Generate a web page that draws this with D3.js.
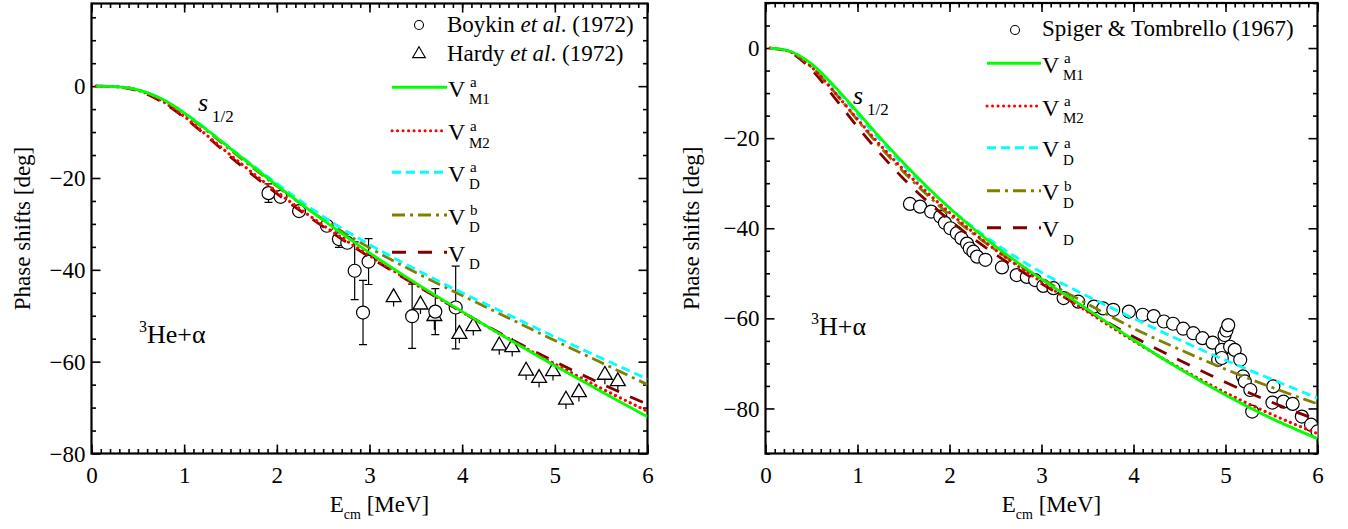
<!DOCTYPE html>
<html><head><meta charset="utf-8">
<script src="https://cdn.jsdelivr.net/npm/d3@7"></script>
<style>
html,body{margin:0;padding:0;background:#fff;}
</style></head>
<body>
<svg id="chart" width="1348" height="529"></svg>
<script>
// ---------------- DATA ----------------
const energyGrid = [0.05,0.25,0.5,0.75,1,1.25,1.5,2,2.5,3,3.5,4,4.5,5,5.5,6];
const xTicks = [0,1,2,3,4,5,6];
const yTicksLeft = [-80,-60,-40,-20,0];
const yTicksRight = [-80,-60,-40,-20,0];

// 3He + alpha (left panel)
const heVM1 = [0,-0.1,-0.8,-2.7,-5.8,-9.6,-13.6,-21.6,-29.2,-36.3,-42.9,-49.1,-55.1,-60.9,-66.5,-72.0];
const heVM2 = [0,-0.1,-0.9,-3.1,-6.6,-10.8,-15.0,-23.0,-30.3,-36.9,-43.2,-49.2,-55.0,-60.5,-65.8,-70.8];
const heVDa = [0,-0.1,-0.8,-2.7,-5.8,-9.5,-13.5,-21.2,-28.4,-34.5,-39.9,-45.0,-49.8,-54.6,-59.2,-63.8];
const heVDb = [0,-0.1,-0.8,-2.8,-6.0,-9.8,-13.9,-21.8,-29.0,-35.2,-40.6,-45.6,-50.5,-55.4,-60.2,-65.0];
const heVD  = [0,-0.1,-1.0,-3.3,-6.8,-11.0,-15.4,-23.4,-30.6,-37.2,-43.3,-49.2,-54.8,-60.0,-64.8,-69.3];

// Boykin et al. (1972): energy, phase, error
const boykinE   = [1.91,2.04,2.24,2.54,2.67,2.76,2.84,2.99,2.93,3.46,3.71,3.93];
const boykinPh  = [-23.3,-24.1,-27.2,-30.4,-33.3,-34.1,-40.2,-38.2,-49.3,-50.1,-49.1,-48.2];
const boykinErr = [2.0,1.0,1.0,1.0,1.8,1.0,6.3,5.0,7.0,7.0,5.0,9.0];
// Hardy et al. (1972)
const hardyE   = [3.26,3.55,3.70,3.97,4.12,4.40,4.54,4.69,4.83,4.98,5.12,5.26,5.54,5.68];
const hardyPh  = [-46.0,-47.6,-50.1,-54.0,-52.3,-56.5,-56.9,-62.0,-63.6,-62.1,-68.3,-66.7,-62.9,-64.3];
const hardyErr = [2.0,2.0,3.0,2.0,2.0,2.0,2.0,2.0,2.0,2.0,2.0,2.0,2.0,2.0];

// 3H + alpha (right panel)
const tVM1 = [0,-0.6,-3.5,-8.5,-14.2,-20.0,-25.5,-35.5,-44.0,-51.3,-58.0,-64.8,-71.2,-77.0,-82.2,-86.7];
const tVM2 = [0,-0.7,-4.2,-9.8,-15.8,-21.6,-27.0,-36.5,-44.8,-51.9,-58.5,-65.0,-71.0,-76.5,-81.3,-85.6];
const tVDa = [0,-0.6,-3.6,-8.8,-14.7,-20.5,-26.0,-35.5,-43.4,-49.8,-55.1,-60.0,-64.8,-69.3,-73.5,-77.7];
const tVDb = [0,-0.7,-4.2,-9.8,-16.0,-22.0,-27.5,-37.0,-44.8,-51.2,-56.8,-62.2,-66.9,-71.3,-75.3,-79.0];
const tVD  = [0,-0.8,-4.8,-11.0,-17.5,-23.5,-29.0,-38.2,-45.8,-52.3,-58.3,-64.1,-69.3,-74.2,-78.6,-82.6];

// Spiger & Tombrello (1967)
const spigerE  = [1.57,1.68,1.80,1.90,1.95,2.01,2.08,2.13,2.19,2.22,2.26,2.30,2.39,2.57,2.73,2.84,2.93,3.02,3.13,3.24,3.40,3.57,3.67,3.78,3.95,4.10,4.22,4.33,4.43,4.54,4.65,4.75,4.86,4.92,4.96,4.96,4.99,5.01,5.03,5.05,5.10,5.16,5.19,5.21,5.27,5.29,5.51,5.52,5.63,5.73,5.83,5.93,6.0];
const spigerPh = [-34.6,-35.2,-36.3,-37.4,-38.8,-40.0,-41.1,-42.2,-43.4,-44.5,-45.2,-46.3,-47.0,-48.7,-50.4,-50.8,-51.5,-52.8,-53.3,-55.5,-56.3,-57.4,-57.8,-58.1,-58.5,-59.2,-59.5,-60.7,-61.2,-62.3,-63.3,-64.4,-65.4,-69.2,-67.0,-68.8,-63.7,-62.7,-61.5,-66.3,-67.0,-69.2,-72.9,-74.0,-75.9,-80.7,-78.7,-75.1,-78.5,-79.0,-81.8,-83.6,-85.1];

const legendLabels = [["M1","a"],["M2","a"],["D","a"],["D","b"],["D",""]];
const seriesColors = ["#00ff00","#ff0000","#00ffff","#808000","#800000"];
const seriesDash = [null,"0.1,5.4","9,5","13,5,3,5","14,12"];

// ---------------- DRAW ----------------
const FONT = '"Liberation Serif", "Times New Roman", Times, serif';
const svg = d3.select("#chart").style("font-family",FONT);
svg.append("rect").attr("width",1348).attr("height",529).attr("fill","#fff");

function panel(cfg){
  const x = d3.scaleLinear().domain([0,6]).range([cfg.x0,cfg.x1]);
  const y = d3.scaleLinear().domain(cfg.ydom).range([cfg.y1,cfg.y0]);
  const g = svg.append("g");
  const clipId = "clip"+cfg.id;
  svg.append("clipPath").attr("id",clipId).append("rect")
    .attr("x",cfg.x0).attr("y",cfg.y0).attr("width",cfg.x1-cfg.x0).attr("height",cfg.y1-cfg.y0);

  const minorX = d3.range(0,6.0001,0.1).map(v=>+v.toFixed(1));
  const minorY = d3.range(cfg.ydom[0],cfg.ydom[1]+0.001,5).filter(v=>v%20!==0);
  const styleAxis = sel=>{sel.attr("font-family",null);sel.selectAll("path.domain").remove();sel.selectAll("line").attr("stroke","#000").attr("stroke-width",1.6);};
  g.append("g").attr("transform",`translate(0,${cfg.y1})`)
    .call(d3.axisBottom(x).tickValues(minorX).tickFormat("").tickSize(-4.5)).call(styleAxis);
  g.append("g").attr("transform",`translate(0,${cfg.y0})`)
    .call(d3.axisTop(x).tickValues(minorX).tickFormat("").tickSize(-4.5)).call(styleAxis);
  const bx = g.append("g").attr("transform",`translate(0,${cfg.y1})`)
    .call(d3.axisBottom(x).tickValues(xTicks).tickFormat(d3.format("d")).tickSize(-9).tickPadding(29)).call(styleAxis);
  bx.selectAll("text").attr("font-size",23).attr("dy",0);
  g.append("g").attr("transform",`translate(0,${cfg.y0})`)
    .call(d3.axisTop(x).tickValues(xTicks).tickFormat("").tickSize(-9)).call(styleAxis);
  g.append("g").attr("transform",`translate(${cfg.x0},0)`)
    .call(d3.axisLeft(y).tickValues(minorY).tickFormat("").tickSize(-4.5)).call(styleAxis);
  g.append("g").attr("transform",`translate(${cfg.x1},0)`)
    .call(d3.axisRight(y).tickValues(minorY).tickFormat("").tickSize(-4.5)).call(styleAxis);
  const ly = g.append("g").attr("transform",`translate(${cfg.x0},0)`)
    .call(d3.axisLeft(y).tickValues(cfg.yticks).tickFormat(d3.format("d")).tickSize(-9).tickPadding(6)).call(styleAxis);
  ly.selectAll("text").attr("font-size",23).attr("dy","0.33em");
  g.append("g").attr("transform",`translate(${cfg.x1},0)`)
    .call(d3.axisRight(y).tickValues(cfg.yticks).tickFormat("").tickSize(-9)).call(styleAxis);
  g.append("rect").attr("x",cfg.x0).attr("y",cfg.y0).attr("width",cfg.x1-cfg.x0).attr("height",cfg.y1-cfg.y0)
    .attr("fill","none").attr("stroke","#000").attr("stroke-width",2.2);

  const yt = g.append("text").attr("transform",`translate(${cfg.ytitleX},${(cfg.y0+cfg.y1)/2}) rotate(-90)`)
    .attr("text-anchor","middle").attr("font-size",23);
  yt.text("Phase shifts [deg]");
  const xt = g.append("text").attr("x",(cfg.x0+cfg.x1)/2+10).attr("y",512).attr("text-anchor","middle").attr("font-size",23);
  xt.append("tspan").text("E");
  xt.append("tspan").attr("font-size",14).attr("dy",7).text("cm");
  xt.append("tspan").attr("dy",-7).text(" [MeV]");

  const mk = g.append("g").attr("clip-path",`url(#${clipId})`);
  if(cfg.errE){
    cfg.errE.forEach((e,i)=>{
      const cx=x(e), lo=y(cfg.errPh[i]-cfg.errErr[i]), hi=y(cfg.errPh[i]+cfg.errErr[i]);
      mk.append("line").attr("x1",cx).attr("x2",cx).attr("y1",lo).attr("y2",hi).attr("stroke","#000").attr("stroke-width",1.2);
      [lo,hi].forEach(yy=>mk.append("line").attr("x1",cx-4).attr("x2",cx+4).attr("y1",yy).attr("y2",yy).attr("stroke","#000").attr("stroke-width",1.2));
    });
  }
  if(cfg.triE){
    cfg.triE.forEach((e,i)=>{
      const cx=x(e), cy=y(cfg.triPh[i]);
      mk.append("line").attr("x1",cx).attr("x2",cx).attr("y1",cy).attr("y2",y(cfg.triPh[i]-cfg.triErr[i])).attr("stroke","#000").attr("stroke-width",1.2);
      mk.append("path").attr("transform",`translate(${cx},${cy})`)
        .attr("d",d3.symbol(d3.symbolTriangle,95)()).attr("fill","#fff").attr("stroke","#000").attr("stroke-width",1.3);
    });
  }
  cfg.circE.forEach((e,i)=>{
    mk.append("circle").attr("cx",x(e)).attr("cy",y(cfg.circPh[i])).attr("r",6.5)
      .attr("fill","#fff").attr("stroke","#000").attr("stroke-width",1.2);
  });

  const line = d3.line().x((d)=>x(d[0])).y(d=>y(d[1])).curve(d3.curveMonotoneX);
  [4,3,2,1,0].forEach(k=>{
    const pts = energyGrid.map((e,i)=>[e,cfg.series[k][i]]);
    const p = g.append("path").attr("d",line(pts)).attr("fill","none")
      .attr("stroke",seriesColors[k]).attr("stroke-width",k===1?3.2:2.8).attr("clip-path",`url(#${clipId})`);
    if(seriesDash[k]) p.attr("stroke-dasharray",seriesDash[k]);
    if(k===1) p.attr("stroke-linecap","round");
  });

  cfg.legY.forEach((ly0,k)=>{
    const p = g.append("line").attr("x1",cfg.legX0).attr("x2",cfg.legX1).attr("y1",ly0).attr("y2",ly0)
      .attr("stroke",seriesColors[k]).attr("stroke-width",3);
    if(seriesDash[k]) p.attr("stroke-dasharray",seriesDash[k]);
    if(k===1) p.attr("stroke-linecap","round");
    g.append("text").attr("x",cfg.legX1+1).attr("y",ly0+9.5).attr("font-size",24).text("V");
    if(legendLabels[k][1]) g.append("text").attr("x",cfg.legX1+23).attr("y",ly0).attr("font-size",15).text(legendLabels[k][1]);
    g.append("text").attr("x",cfg.legX1+22).attr("y",ly0+17).attr("font-size",15).text(legendLabels[k][0]);
  });
  return {x,y,g};
}

const L = panel({id:"L",x0:91.5,x1:647.5,y0:3.5,y1:453.5,ydom:[-80,18],yticks:yTicksLeft,ytitleX:30,
  series:[heVM1,heVM2,heVDa,heVDb,heVD],
  circE:boykinE,circPh:boykinPh,errE:boykinE,errPh:boykinPh,errErr:boykinErr,
  triE:hardyE,triPh:hardyPh,triErr:hardyErr,
  legX0:392,legX1:447,legY:[87.3,130.7,172.3,215,252.3]});
const R = panel({id:"R",x0:765.5,x1:1317.5,y0:3,y1:453.5,ydom:[-90,10],yticks:yTicksRight,ytitleX:699,
  series:[tVM1,tVM2,tVDa,tVDb,tVD],
  circE:spigerE,circPh:spigerPh,
  legX0:987,legX1:1041,legY:[63.3,106,147.7,190.7,227.7]});

L.g.append("circle").attr("cx",419).attr("cy",25).attr("r",4.5).attr("fill","#fff").attr("stroke","#000").attr("stroke-width",1.1);
L.g.append("path").attr("transform","translate(419,54)").attr("d",d3.symbol(d3.symbolTriangle,70)()).attr("fill","#fff").attr("stroke","#000").attr("stroke-width",1.1);
const t1 = L.g.append("text").attr("x",447).attr("y",32).attr("font-size",23);
t1.append("tspan").text("Boykin ");t1.append("tspan").attr("font-style","italic").text("et al");t1.append("tspan").text(". (1972)");
const t2 = L.g.append("text").attr("x",447).attr("y",61).attr("font-size",23);
t2.append("tspan").text("Hardy ");t2.append("tspan").attr("font-style","italic").text("et al");t2.append("tspan").text(". (1972)");
R.g.append("circle").attr("cx",1015).attr("cy",30).attr("r",4.5).attr("fill","#fff").attr("stroke","#000").attr("stroke-width",1.1);
R.g.append("text").attr("x",1042).attr("y",36).attr("font-size",23).text("Spiger & Tombrello (1967)");

function sLabel(g,xx,yy){
  g.append("text").attr("x",xx).attr("y",yy).attr("font-size",26).attr("font-style","italic").text("s");
  g.append("text").attr("x",xx+14).attr("y",yy+11).attr("font-size",17).text("1/2");
}
sLabel(L.g,198,111);
sLabel(R.g,853,104);
function nucl(g,xx,yy,body){
  g.append("text").attr("x",xx).attr("y",yy-11).attr("font-size",16).text("3");
  g.append("text").attr("x",xx+8).attr("y",yy).attr("font-size",26).text(body);
}
nucl(L.g,139,343,"He+α");
nucl(R.g,811,335,"H+α");

d3.selectAll("svg text").style("font-family",FONT).attr("fill","#000");
</script>
</body></html>
